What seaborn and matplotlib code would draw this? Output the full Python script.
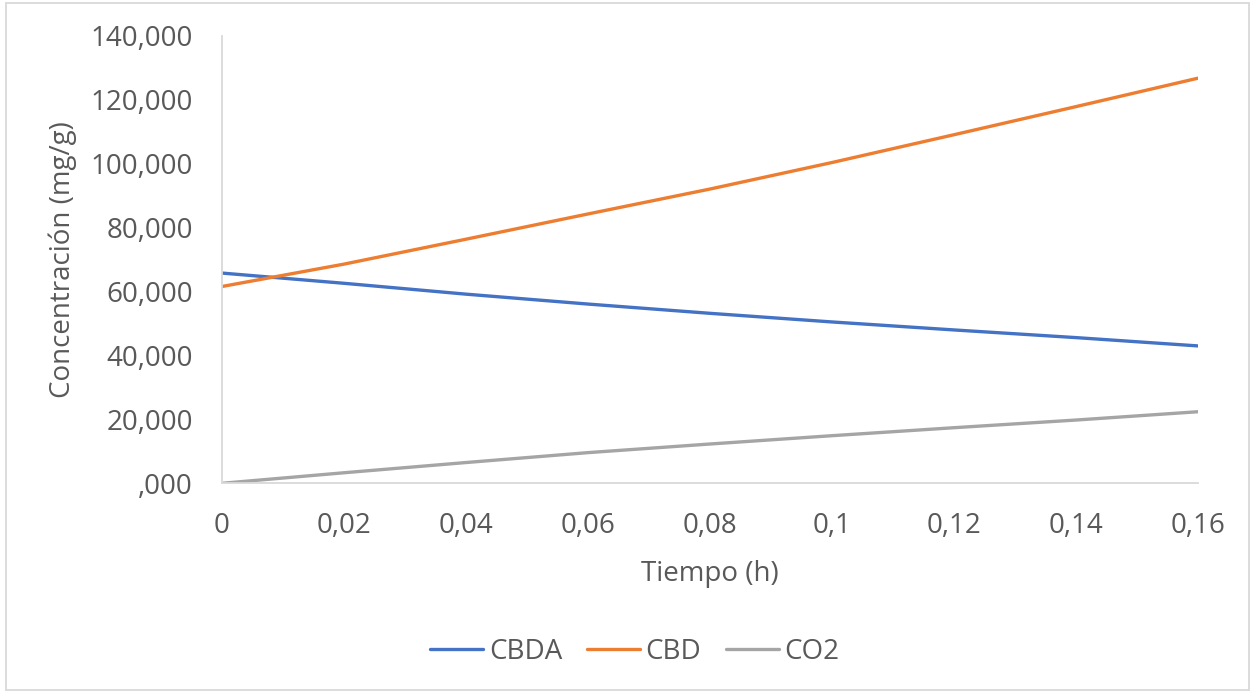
import matplotlib
matplotlib.use("Agg")
import matplotlib.pyplot as plt
from matplotlib.lines import Line2D
from matplotlib.patches import Rectangle
from matplotlib.ticker import FixedLocator, FuncFormatter
import pandas as pd
import seaborn as sns

# Reaction time (h) and concentrations (mg/g)
tiempo = [0.0, 0.02, 0.04, 0.06, 0.08, 0.10, 0.12, 0.14, 0.16]
cbda = [65.8, 62.6, 59.2, 56.1, 53.2, 50.5, 48.0, 45.6, 43.0]
cbd = [61.6, 68.6, 76.4, 84.3, 92.1, 100.4, 109.1, 117.9, 126.8]
co2 = [0.0, 3.3, 6.5, 9.6, 12.3, 14.9, 17.4, 19.8, 22.4]

series_names = ["CBDA", "CBD", "CO2"]
colors = ["#4472C4", "#ED7D31", "#A5A5A5"]

y_ticks = [0, 20, 40, 60, 80, 100, 120, 140]
x_ticks = [0, 0.02, 0.04, 0.06, 0.08, 0.10, 0.12, 0.14, 0.16]

df = pd.DataFrame({
    "Tiempo": tiempo * 3,
    "Concentracion": cbda + cbd + co2,
    "Serie": [n for n in series_names for _ in tiempo],
})

sns.set_theme(style="white")
plt.rcParams["font.family"] = ["Open Sans", "DejaVu Sans"]

text_color = "#595959"
axis_color = "#D9D9D9"
fs = 20
lw = 2.4

fig = plt.figure(figsize=(12.53, 6.93), dpi=100)
ax = fig.add_axes([222 / 1253, 1 - 483.3 / 693, (1198 - 222) / 1253, (483.3 - 36) / 693])

sns.lineplot(data=df, x="Tiempo", y="Concentracion", hue="Serie",
             hue_order=series_names, palette=colors, linewidth=lw,
             ax=ax, legend=False, solid_capstyle="round")

ax.set_xlim(0, 0.16)
ax.set_ylim(0, 140)
ax.xaxis.set_major_locator(FixedLocator(x_ticks))
ax.yaxis.set_major_locator(FixedLocator(y_ticks))


def fmt_y_es(v, pos):
    # Spanish number format with three decimals; zero shown as ",000"
    s = f"{v:.3f}".replace(".", ",")
    return s[1:] if s.startswith("0,") else s


def fmt_x_es(v, pos):
    if abs(v) < 1e-12:
        return "0"
    s = f"{v:.2f}".rstrip("0")
    return s.replace(".", ",")


ax.yaxis.set_major_formatter(FuncFormatter(fmt_y_es))
ax.xaxis.set_major_formatter(FuncFormatter(fmt_x_es))

ax.tick_params(axis="both", length=0, labelsize=fs, colors=text_color)
ax.tick_params(axis="y", pad=21)
ax.tick_params(axis="x", pad=21)

for side in ("top", "right"):
    ax.spines[side].set_visible(False)
for side in ("left", "bottom"):
    ax.spines[side].set_color(axis_color)
    ax.spines[side].set_linewidth(1.3)

ax.set_xlabel("Tiempo (h)", fontsize=fs, color=text_color, labelpad=14)
ax.set_ylabel("Concentración (mg/g)", fontsize=fs, color=text_color, labelpad=10)
ax.grid(False)

handles = [Line2D([0], [0], color=c, lw=lw) for c in colors]
fig.legend(handles, series_names, loc="center", bbox_to_anchor=(635 / 1253, 1 - 652 / 693),
           ncol=3, frameon=False, fontsize=fs, labelcolor=text_color,
           handlelength=1.9, handletextpad=0.2, columnspacing=0.9)

# Chart area border
fig.patches.append(Rectangle((6 / 1253, 3 / 693), (1249 - 6) / 1253, (690 - 3) / 693,
                             transform=fig.transFigure, fill=False,
                             edgecolor=axis_color, linewidth=1.3))

fig.savefig("out.png", dpi=100, facecolor="white")
